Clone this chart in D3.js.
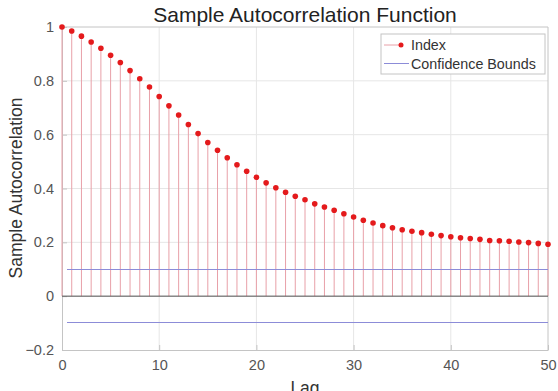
<!DOCTYPE html>
<html>
<head>
<meta charset="utf-8">
<script src="https://cdn.jsdelivr.net/npm/d3@7"></script>
<style>
  body { margin: 0; background: #fff; }
  svg { display: block; font-family: "Liberation Sans", Arial, sans-serif; }
</style>
</head>
<body>
<svg id="chart" width="558" height="391"></svg>
<script>
// lags and sample autocorrelation
const lags = [0,1,2,3,4,5,6,7,8,9,10,11,12,13,14,15,16,17,18,19,20,21,22,23,24,25,
  26,27,28,29,30,31,32,33,34,35,36,37,38,39,40,41,42,43,44,45,46,47,48,49,50];
const acf = [1.0,0.985,0.966,0.944,0.921,0.895,0.868,0.838,0.808,0.777,0.742,0.707,0.673,
  0.638,0.604,0.571,0.542,0.514,0.488,0.464,0.442,0.421,0.403,0.386,0.371,0.358,0.343,
  0.331,0.319,0.306,0.294,0.282,0.272,0.262,0.254,0.247,0.241,0.236,0.230,0.225,0.221,
  0.217,0.214,0.211,0.207,0.206,0.204,0.201,0.199,0.196,0.193];
const bounds = [0.099, -0.099];
const xTicks = [0, 10, 20, 30, 40, 50];
const yTicks = [-0.2, 0, 0.2, 0.4, 0.6, 0.8, 1];
const legendLabels = ["Index", "Confidence Bounds"];

const stemColor = "#e8a0a8";
const dotColor = "#e41a1c";
const boundColor = "#8c8cd8";

const svg = d3.select("#chart");
const margin = {top: 27, right: 10, bottom: 41, left: 62};
const width = 558 - margin.left - margin.right;
const height = 391 - margin.top - margin.bottom;

const x = d3.scaleLinear().domain([0, 50]).range([0, width]);
const y = d3.scaleLinear().domain([-0.2, 1]).range([height, 0]);

const g = svg.append("g").attr("transform", `translate(${margin.left},${margin.top})`);

// grid
g.append("g").selectAll("line").data(xTicks.slice(1, -1)).enter().append("line")
  .attr("x1", d => x(d)).attr("x2", d => x(d)).attr("y1", 0).attr("y2", height)
  .attr("stroke", "#e6e6e6");
g.append("g").selectAll("line").data(yTicks.slice(1, -1)).enter().append("line")
  .attr("y1", d => y(d)).attr("y2", d => y(d)).attr("x1", 0).attr("x2", width)
  .attr("stroke", "#e6e6e6");

// axes
const xAxis = g.append("g").attr("transform", `translate(0,${height})`)
  .call(d3.axisBottom(x).tickValues(xTicks).tickSizeInner(-5).tickSizeOuter(0).tickPadding(10));
const yAxis = g.append("g")
  .call(d3.axisLeft(y).tickValues(yTicks).tickSizeInner(-5).tickSizeOuter(0).tickPadding(8)
    .tickFormat(d3.format("")));
[xAxis, yAxis].forEach(a => {
  a.select(".domain").attr("stroke", "#c4c4c4");
  a.selectAll(".tick line").attr("stroke", "#c4c4c4");
  a.selectAll(".tick text").attr("fill", "#555").style("font-size", "14.5px")
    .style("font-family", "Liberation Sans, Arial, sans-serif");
});
// top and right box lines
g.append("line").attr("x1", 0).attr("x2", width).attr("y1", 0).attr("y2", 0).attr("stroke", "#c4c4c4");
g.append("line").attr("x1", width).attr("x2", width).attr("y1", 0).attr("y2", height).attr("stroke", "#c4c4c4");

// stems
g.append("g").selectAll("line").data(lags).enter().append("line")
  .attr("x1", d => x(d)).attr("x2", d => x(d))
  .attr("y1", y(0)).attr("y2", (d, i) => y(acf[i]))
  .attr("stroke", stemColor).attr("stroke-width", 1);

// zero line
g.append("line").attr("x1", x(0)).attr("x2", x(50)).attr("y1", y(0)).attr("y2", y(0))
  .attr("stroke", "#555").attr("stroke-width", 1);

// confidence bounds
g.append("g").selectAll("line").data(bounds).enter().append("line")
  .attr("x1", x(0.5)).attr("x2", x(50)).attr("y1", d => y(d)).attr("y2", d => y(d))
  .attr("stroke", boundColor).attr("stroke-width", 1)
  .attr("shape-rendering", "crispEdges");

// markers
g.append("g").selectAll("circle").data(lags).enter().append("circle")
  .attr("cx", d => x(d)).attr("cy", (d, i) => y(acf[i]))
  .attr("r", 2.8).attr("fill", dotColor);

// title and labels
svg.append("text").attr("x", margin.left + width / 2).attr("y", 22)
  .attr("text-anchor", "middle").attr("fill", "#222").style("font-size", "21px")
  .text("Sample Autocorrelation Function");
svg.append("text").attr("x", margin.left + width / 2).attr("y", 394)
  .attr("text-anchor", "middle").attr("fill", "#333").style("font-size", "17.5px")
  .text("Lag");
svg.append("text").attr("transform", "translate(21.5,188) rotate(-90)")
  .attr("text-anchor", "middle").attr("fill", "#333").style("font-size", "17.5px")
  .text("Sample Autocorrelation");

// legend
const lg = svg.append("g").attr("transform", "translate(381,34)");
lg.append("rect").attr("width", 164).attr("height", 40)
  .attr("fill", "#fff").attr("stroke", "#c4c4c4");
lg.append("line").attr("x1", 3).attr("x2", 20).attr("y1", 11).attr("y2", 11)
  .attr("stroke", stemColor);
lg.append("circle").attr("cx", 20).attr("cy", 11).attr("r", 2.5).attr("fill", dotColor);
lg.append("line").attr("x1", 3).attr("x2", 28).attr("y1", 29.5).attr("y2", 29.5)
  .attr("stroke", boundColor);
lg.selectAll("text.lab").data(legendLabels).enter().append("text").attr("class", "lab")
  .attr("x", 30).attr("y", (d, i) => 16 + i * 18.5)
  .attr("fill", "#333").style("font-size", "14.3px")
  .text(d => d);
</script>
</body>
</html>
